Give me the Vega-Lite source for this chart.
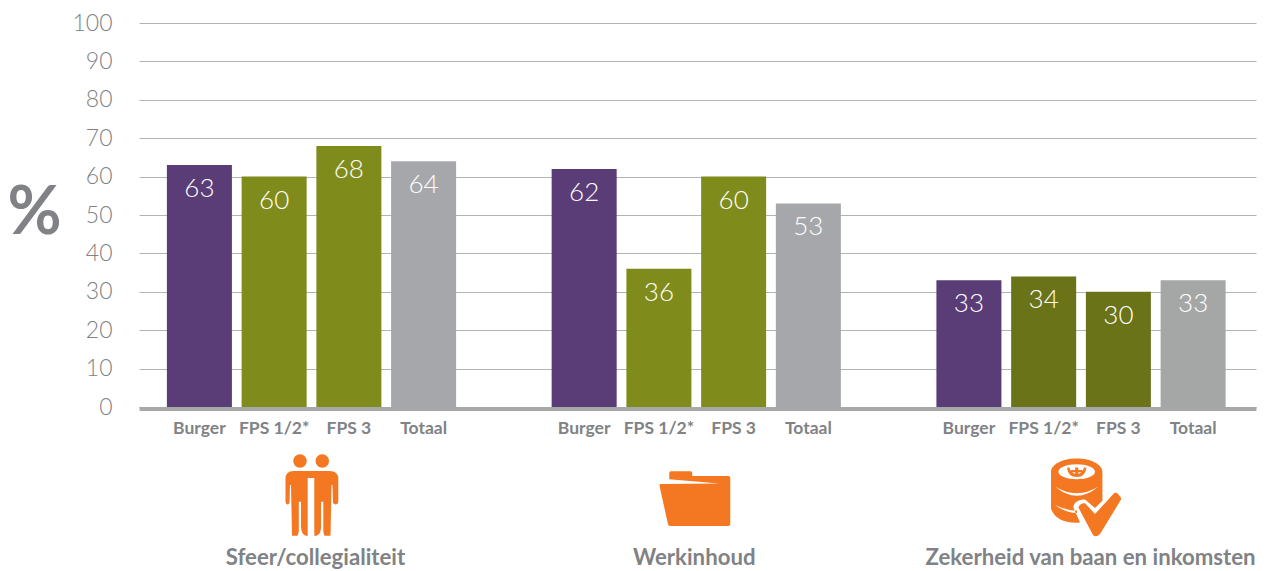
{
"$schema":"https://vega.github.io/schema/vega-lite/v6.json",
"autosize":{"type":"none"},
"width":1117,"height":384,
"padding":{"left":139,"top":23,"right":12,"bottom":164},
"background":"white",
"config":{"view":{"stroke":null},"font":"Lato"},
"data":{"values":[
{"groep":"Sfeer/collegialiteit","categorie":"Burger","waarde":63},
{"groep":"Sfeer/collegialiteit","categorie":"FPS 1/2*","waarde":60},
{"groep":"Sfeer/collegialiteit","categorie":"FPS 3","waarde":68},
{"groep":"Sfeer/collegialiteit","categorie":"Totaal","waarde":64},
{"groep":"Werkinhoud","categorie":"Burger","waarde":62},
{"groep":"Werkinhoud","categorie":"FPS 1/2*","waarde":36},
{"groep":"Werkinhoud","categorie":"FPS 3","waarde":60},
{"groep":"Werkinhoud","categorie":"Totaal","waarde":53},
{"groep":"Zekerheid van baan en inkomsten","categorie":"Burger","waarde":33},
{"groep":"Zekerheid van baan en inkomsten","categorie":"FPS 1/2*","waarde":34},
{"groep":"Zekerheid van baan en inkomsten","categorie":"FPS 3","waarde":30},
{"groep":"Zekerheid van baan en inkomsten","categorie":"Totaal","waarde":33}
]},
"transform":[{"calculate":"(datum.groep==='Zekerheid van baan en inkomsten'?'Z ':'')+datum.categorie","as":"tint"}],
"encoding":{
"x":{"field":"groep","type":"nominal","sort":["Sfeer/collegialiteit","Werkinhoud","Zekerheid van baan en inkomsten"],
"scale":{"domain":["Sfeer/collegialiteit","Werkinhoud","Zekerheid van baan en inkomsten"],"paddingInner":0.1943,"paddingOuter":0.0487,"align":0.467},
"axis":{"title":null,"labelAngle":0,"ticks":false,"domainWidth":4,"domainColor":"#a7a8aa","offset":1.5,"labelPadding":149,"labelFontSize":22.2,"labelFontWeight":700,"labelColor":"#808285","labelBaseline":"middle","labelOverlap":false,"labelBound":false,"labelFlush":false,"labelLimit":0,
"labelOffset":{"condition":[{"test":"datum.value==='Zekerheid van baan en inkomsten'","value":9.5},{"test":"datum.value==='Sfeer/collegialiteit'","value":4}],"value":-2}}},
"y":{"field":"waarde","type":"quantitative","scale":{"domain":[0,100],"nice":false},
"axis":{"title":"%","titleAngle":0,"titleFontSize":66,"titleFontWeight":700,"titleColor":"#808285","titleX":-105,"titleY":190,"titleAlign":"center","titleBaseline":"middle","values":[0,10,20,30,40,50,60,70,80,90,100],"tickCount":11,"labelOverlap":false,"domain":false,"ticks":false,"labelPadding":27,"labelFontSize":23,"labelFontWeight":300,"labelColor":"#808285","grid":true,"gridColor":"#b1b3b5","gridWidth":1}}
},
"layer":[
{"mark":{"type":"bar"},
"encoding":{
"xOffset":{"field":"categorie","type":"nominal","scale":{"domain":["Burger","FPS 1/2*","FPS 3","Totaal"],"paddingInner":0.13,"paddingOuter":0.139}},
"color":{"field":"tint","type":"nominal","legend":null,"scale":{"domain":["Burger","FPS 1/2*","FPS 3","Totaal","Z Burger","Z FPS 1/2*","Z FPS 3","Z Totaal"],"range":["#5a3c76","#7f8c1c","#7f8c1c","#a6a7aa","#5a3c76","#6b7319","#6b7319","#a5a7a6"]}}
}},
{"mark":{"type":"text","color":"white","fontSize":26,"fontWeight":300,"dy":24,"baseline":"middle","align":"center"},
"encoding":{
"xOffset":{"field":"categorie","type":"nominal"},
"text":{"field":"waarde","type":"quantitative"}
}},
{"mark":{"type":"text","color":"#808285","fontSize":17.5,"fontWeight":700,"dy":22,"baseline":"middle","align":"center"},
"encoding":{
"xOffset":{"field":"categorie","type":"nominal"},
"y":{"datum":0},
"text":{"field":"categorie","type":"nominal"}
}},
{"transform":[{"filter":"datum.categorie==='Burger'"}],
"mark":{"type":"point","filled":true,"opacity":1,"color":"#f47721","size":4,"strokeWidth":0},
"encoding":{
"y":{"datum":-23.44},
"shape":{"field":"groep","type":"nominal","legend":null,"scale":{"domain":["Sfeer/collegialiteit","Werkinhoud","Zekerheid van baan en inkomsten"],"range":[
"M -18.2 -36 C -18.2 -39.7 -15.2 -42.7 -11.5 -42.7 C -7.8 -42.7 -4.8 -39.7 -4.8 -36 C -4.8 -32.3 -7.8 -29.3 -11.5 -29.3 C -15.2 -29.3 -18.2 -32.3 -18.2 -36 Z M 4.1 -36 C 4.1 -39.7 7.1 -42.7 10.8 -42.7 C 14.5 -42.7 17.5 -39.7 17.5 -36 C 17.5 -32.3 14.5 -29.3 10.8 -29.3 C 7.1 -29.3 4.1 -32.3 4.1 -36 Z M -18 -26 L 18 -26 Q 26.8 -26 26.8 -18 L 26.8 4 Q 26.8 7.5 23.5 7.5 L 21.5 6 L 21 -12 L 20 -12 L 19 38.7 L 13 38.7 Q 11.8 36 11.8 34 L 11.8 4.7 L 9.6 4.7 L 9.6 30 Q 9.4 37 5 38.7 L 2.8 38.7 L 2.8 -19 L -3.8 -19 L -3.8 38.7 L -6 38.7 Q -10.2 37 -10.5 30 L -10.5 4.7 L -12.7 4.7 L -12.7 34 Q -12.7 36 -14 38.7 L -19.5 38.7 L -20.5 -12 L -21.5 -12 L -22 6 L -23.5 7.5 Q -26 7.5 -26 4 L -26 -18 Q -26 -26 -18 -26 Z",
"M -27 -17.7 L -27 -24 Q -27 -25.7 -25.3 -25.7 L -6 -25.7 Q -4 -25.7 -4 -23.7 L -4 -21 L 32 -21 Q 34 -21 34 -19 L 34 27 Q 34 29 32 29 L -26 29 Q -28 29 -28.3 27 L -36.7 -11 Q -37 -13 -35.3 -13 L 23 -13.5 Z",
"M -30 -25.3 C -30 -32.6 -18.5 -38.6 -4.3 -38.6 C 9.9 -38.6 21.4 -32.6 21.4 -25.3 L 21.4 3.7 L 14 11 L 4 2.5 Q -2 2 -6 6 Q -8.5 9 -7 12 L -1 25.5 Q -24 27 -30 12 Z M -22.6 -25.3 C -22.6 -21.2 -14.4 -17.8 -4.3 -17.8 C 5.8 -17.8 14 -21.2 14 -25.3 C 14 -29.4 5.8 -32.8 -4.3 -32.8 C -14.4 -32.8 -22.6 -29.4 -22.6 -25.3 Z M -14 -29.5 L -11.5 -29.5 Q -10.5 -23 -4.3 -23 Q 1.9 -23 2.9 -29.5 L 5.4 -29.5 Q 4.4 -20 -4.3 -20 Q -13 -20 -14 -29.5 Z M -5.8 -29.5 L -2.8 -29.5 L -2.8 -21 L -5.8 -21 Z M -10 -27 L 1.4 -27 L 1.4 -24.8 L -10 -24.8 Z M -26 -10.5 Q -4.3 8 17.5 -10.5 Q -4.3 3 -26 -10.5 Z M -26 8 Q -15 16 -4 16 L -4 13.5 Q -15 13.5 -26 8 Z M -2.7 10.3 Q 0 5.5 4 6.3 L 14 17 L 33 -3.7 Q 35 -5 37 -3 L 39.5 0 Q 40.5 2 39.7 3 L 19 37 Q 15 41 12 38 Z"
]}}
}}
]
}
